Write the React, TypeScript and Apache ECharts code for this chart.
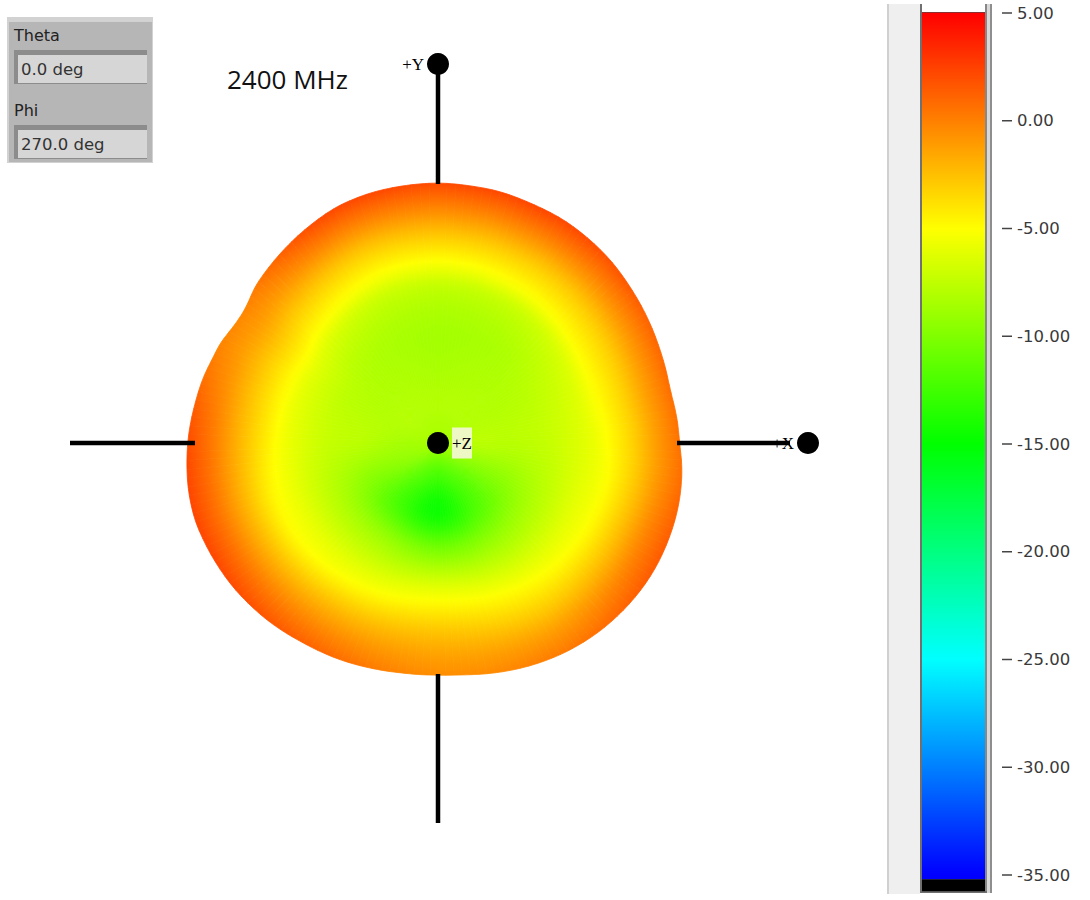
import React, { useEffect, useRef } from "react";
import * as echarts from "echarts";

const colorStops = ["#0000ff", "#0080ff", "#00ffff", "#00ff80", "#00ff00", "#80ff00", "#ffff00", "#ff8000", "#ff0000"];
const scaleMin = -35;
const scaleMax = 5;
const scaleStep = 5;
const scaleTicks = [5, 0, -5, -10, -15, -20, -25, -30, -35];

// Outline of the pattern: polar angle (deg) and radius from the +Z point
const outlineAngles = [0.7, 3, 12.9, 22.7, 31.1, 39.1, 46.1, 53.2, 60.7, 69, 76.8, 82.2, 89.6, 105.2, 113.2, 122.7, 131.3, 140.4, 144.5, 150.7, 154.5, 159.3, 164.5, 169.2, 179.3, 190.6, 197.6, 205.8, 215, 226, 236, 245, 253.2, 261.3, 270, 276, 284.4, 292.5, 300.2, 308.6, 314.7, 320.2, 327.7, 333.9, 342, 347, 353.7];
const outlineRadii = [241, 241, 238, 240.7, 244, 247.4, 251, 253.6, 256, 257, 259, 259, 260, 259, 257, 251, 245.5, 240, 234.5, 235, 239.3, 240.5, 243.8, 245.4, 250, 254, 255, 253, 250.5, 246, 241, 238, 235, 232.6, 232, 233, 237, 241, 244.5, 247.5, 249, 250, 250.8, 250.4, 249.2, 248, 245.5];

// Gain (dB) by fraction of the outline radius (rows) and direction 0,30..330 deg (columns)
const gainFractions = [0, 0.15, 0.3, 0.45, 0.6, 0.68, 0.8, 0.9, 1];
const gainAtCentre = [-8.5, -8.5, -8.5, -8.5, -8.5, -8.5, -8.5, -8.5, -8.5, -8.5, -8.5, -8.5];
const gainAt15 = [-7.8, -8, -8, -8, -8, -8, -8.5, -9.5, -11.5, -12.5, -11.5, -9.5];
const gainAt30 = [-7.8, -8, -8.2, -8.4, -8.2, -8, -7.8, -9.8, -12.5, -14.5, -12, -9.5];
const gainAt45 = [-7.3, -7.6, -8.3, -8.5, -8.2, -7.6, -7.2, -8, -9, -10.5, -9.2, -8];
const gainAt60 = [-6.2, -6.5, -7.2, -7.4, -7, -6.2, -5.7, -5.8, -6.3, -6.6, -6.4, -6];
const gainAt68 = [-5.3, -5, -5.2, -5.5, -5.2, -4.8, -4.4, -4.8, -5, -5, -5, -5];
const gainAt80 = [-3.3, -3, -2.8, -2.8, -2.8, -2.8, -2, -2, -2.5, -2.9, -3, -2.5];
const gainAt90 = [-1.2, -0.8, -0.2, -0.3, -0.3, -1.3, 0.2, 0.3, -0.6, -1.5, -1.2, -0.2];
const gainAtEdge = [0.6, 1.2, 2.2, 2.1, 2, -0.3, 2, 2.2, 1, -0.5, 0.2, 1.5];
const gainRows = [gainAtCentre, gainAt15, gainAt30, gainAt45, gainAt60, gainAt68, gainAt80, gainAt90, gainAtEdge];

const thetaText = "0.0 deg";
const phiText = "270.0 deg";
const titleText = "2400 MHz";

const uiFont = "'DejaVu Sans'";

function rawOutlineAt(a: number) {
  const n = outlineAngles.length;
  const x = ((a % 360) + 360) % 360;
  for (let i = 0; i < n; i++) {
    const a0 = outlineAngles[i];
    const a1 = i + 1 < n ? outlineAngles[i + 1] : outlineAngles[0] + 360;
    const y = x < a0 ? x + 360 : x;
    if (y >= a0 && y <= a1) {
      const t = (y - a0) / (a1 - a0);
      return outlineRadii[i] + t * ((i + 1 < n ? outlineRadii[i + 1] : outlineRadii[0]) - outlineRadii[i]);
    }
  }
  return outlineRadii[0];
}

function outlineAt(a: number) {
  return (rawOutlineAt(a - 2) + rawOutlineAt(a) + rawOutlineAt(a + 2)) / 3;
}

function hermite(p0: number, p1: number, m0: number, m1: number, t: number) {
  const t2 = t * t;
  const t3 = t2 * t;
  return (2 * t3 - 3 * t2 + 1) * p0 + (t3 - 2 * t2 + t) * m0 + (-2 * t3 + 3 * t2) * p1 + (t3 - t2) * m1;
}

function gainInDirection(row: number, a: number) {
  const r = gainRows[row];
  const u = (((a % 360) + 360) % 360) / 30;
  const i = Math.floor(u) % 12;
  const t = u - Math.floor(u);
  const at = (k: number) => r[(k + 12) % 12];
  return hermite(at(i), at(i + 1), (at(i + 1) - at(i - 1)) / 2, (at(i + 2) - at(i)) / 2, t);
}

function gainAt(a: number, f: number) {
  const last = gainFractions.length - 1;
  let i = 0;
  while (i < last - 1 && f > gainFractions[i + 1]) i++;
  const h = gainFractions[i + 1] - gainFractions[i];
  const v = (k: number) => gainInDirection(k, a);
  const slope = (k: number) => {
    if (k <= 0) return (v(1) - v(0)) / (gainFractions[1] - gainFractions[0]);
    if (k >= last) return (v(last) - v(last - 1)) / (gainFractions[last] - gainFractions[last - 1]);
    return (v(k + 1) - v(k - 1)) / (gainFractions[k + 1] - gainFractions[k - 1]);
  };
  return hermite(v(i), v(i + 1), slope(i) * h, slope(i + 1) * h, (f - gainFractions[i]) / h);
}

function colourOf(v: number) {
  const t = Math.max(0, Math.min(1, (v - scaleMin) / (scaleMax - scaleMin)));
  return echarts.color.lerp(t, colorStops) as string;
}

const WEDGES = 180;
const SHADE_STEPS = 40;

function wedgeCells() {
  const out: number[][] = [];
  for (let i = 0; i < WEDGES; i++) out.push([i, 0]);
  return out;
}

function renderWedge(params: any, api: any) {
  const i = api.value(0);
  const da = 360 / WEDGES;
  const a0 = i * da;
  const mid = a0 + da / 2;
  const pt = (a: number) => {
    const r = outlineAt(a);
    return api.coord([r * Math.cos((a * Math.PI) / 180), r * Math.sin((a * Math.PI) / 180)]);
  };
  const c = api.coord([0, 0]);
  const stops = [];
  for (let k = 0; k <= SHADE_STEPS; k++) {
    const f = k / SHADE_STEPS;
    stops.push({ offset: f, color: colourOf(gainAt(mid, f)) });
  }
  const e = api.coord([outlineAt(mid), 0]);
  const grad = new echarts.graphic.RadialGradient(c[0], c[1], Math.abs(e[0] - c[0]), stops, true);
  return {
    type: "polygon",
    shape: { points: [c, pt(a0), pt(mid), pt(a0 + da)] },
    style: { fill: grad, stroke: grad, lineWidth: 0.8 },
  };
}

const scaleFills: Record<number, any> = {};
function renderScale(params: any, api: any) {
  const lo = api.coord([0, api.value(0)]);
  const hi = api.coord([1, api.value(1)]);
  const kind = api.value(2);
  const n = colorStops.length - 1;
  const stops = colorStops.map((_, k) => ({ offset: k / n, color: colorStops[n - k] }));
  scaleFills[1] = new echarts.graphic.LinearGradient(0, 0, 0, 1, stops);
  scaleFills[0] = "#000000";
  scaleFills[2] = colorStops[0];
  return {
    type: "rect",
    shape: { x: lo[0], y: hi[1], width: hi[0] - lo[0], height: lo[1] - hi[1] },
    style: { fill: scaleFills[kind] },
  };
}

function renderTick(params: any, api: any) {
  const p = api.coord([0, api.value(0)]);
  const right = api.coord([1, api.value(0)]);
  const start = right[0] + 17;
  return {
    type: "line",
    shape: { x1: start, y1: p[1], x2: start + 10, y2: p[1] },
    style: { stroke: "#444444", lineWidth: 1.5 },
  };
}

const rect = (x: number, y: number, width: number, height: number, fill: string) => ({
  type: "rect",
  shape: { x, y, width, height },
  style: { fill },
  silent: true,
});

const label = (x: number, y: number, text: string, fontSize: number, fill: string, fontFamily = uiFont) => ({
  type: "text",
  x,
  y,
  style: { text, fontSize, fill, fontFamily, verticalAlign: "middle" },
  silent: true,
});

const axisSegments = [
  [[-368, 0], [-243, 0]],
  [[239, 0], [352, 0]],
  [[0, 379], [0, 259]],
  [[0, -231], [0, -380]],
];

const axisEnds = [
  { name: "+Z", value: [0, 0] },
  { name: "+X", value: [370, 0] },
  { name: "+Y", value: [0, 379] },
];

const labelText = { fontFamily: "'Liberation Serif'", fontSize: 17, color: "#000" };

export default function App() {
  const ref = useRef<HTMLDivElement>(null);
  useEffect(() => {
    const chart = echarts.init(ref.current!, undefined, { renderer: "svg" });
    chart.setOption({
      animation: false,
      backgroundColor: "#ffffff",
      tooltip: { show: false },
      grid: [
        { left: 0, top: 0, width: 1090, height: 900 },
        { left: 922, top: 13, width: 63, height: 862 },
      ],
      xAxis: [
        { type: "value", gridIndex: 0, min: -438, max: 652, show: false },
        { type: "value", gridIndex: 1, min: 0, max: 1, show: false },
      ],
      yAxis: [
        { type: "value", gridIndex: 0, min: -457, max: 443, show: false },
        {
          type: "value",
          gridIndex: 1,
          position: "right",
          offset: 17,
          min: scaleMin,
          max: scaleMax,
          interval: scaleStep,
          splitLine: { show: false },
          axisLine: { show: false },
          axisTick: { show: false },
          axisLabel: {
            margin: 15,
            color: "#3a3a3a",
            fontFamily: uiFont,
            fontSize: 16.5,
            formatter: (v: number) => v.toFixed(2),
          },
        },
      ],
      graphic: [
        {
          type: "group",
          z: 0,
          children: [
            rect(7, 17, 146, 146, "#d2d2d2"),
            rect(9, 22, 143, 140, "#b6b6b6"),
            rect(14, 50, 133, 34, "#8c8c8c"),
            rect(18, 55, 129, 28, "#d6d6d6"),
            rect(14, 125, 133, 34, "#8c8c8c"),
            rect(18, 130, 129, 28, "#d6d6d6"),
            label(14, 35, "Theta", 16, "#222222"),
            label(21, 69, thetaText, 16.5, "#333333"),
            label(14, 110, "Phi", 16, "#222222"),
            label(21, 144, phiText, 16.5, "#333333"),
            label(227, 79, titleText, 26, "#111111", "'Open Sans'"),
            rect(887, 4, 2, 890, "#d0d0d0"),
            rect(889, 4, 31, 890, "#efefef"),
            rect(920, 4, 2, 889, "#707070"),
            rect(922, 12, 63, 2, "#8a3030"),
            rect(985, 4, 2, 889, "#888888"),
            rect(987, 4, 3, 889, "#d8d8d8"),
            rect(990, 4, 2, 889, "#8e8e8e"),
            rect(920, 891, 67, 2, "#707070"),
          ],
        },
      ],
      series: [
        {
          type: "custom",
          coordinateSystem: "cartesian2d",
          xAxisIndex: 0,
          yAxisIndex: 0,
          silent: true,
          clip: false,
          z: 2,
          data: wedgeCells(),
          renderItem: renderWedge,
        },
        ...axisSegments.map((seg) => ({
          type: "line" as const,
          xAxisIndex: 0,
          yAxisIndex: 0,
          silent: true,
          z: 3,
          symbol: "none",
          lineStyle: { color: "#000000", width: 4.5, cap: "butt" },
          data: seg,
        })),
        {
          type: "scatter",
          xAxisIndex: 0,
          yAxisIndex: 0,
          silent: true,
          z: 4,
          symbol: "circle",
          symbolSize: 22,
          itemStyle: { color: "#000000", opacity: 1 },
          data: axisEnds.map((d) => ({
            name: d.name,
            value: d.value,
            label: {
              show: true,
              formatter: d.name,
              ...labelText,
              ...(d.name === "+Z"
                ? { position: "right", distance: 3, backgroundColor: "#eef8c4", padding: [7, 0, 7, 0] }
                : { position: "left", distance: 3 }),
            },
          })),
        },
        {
          type: "custom",
          coordinateSystem: "cartesian2d",
          xAxisIndex: 1,
          yAxisIndex: 1,
          silent: true,
          clip: false,
          z: 2,
          data: [
            [scaleMin, scaleMax, 1],
            [-35.21, scaleMin, 2],
            [-35.75, -35.2, 0],
          ],
          renderItem: renderScale,
        },
        {
          type: "custom",
          coordinateSystem: "cartesian2d",
          xAxisIndex: 1,
          yAxisIndex: 1,
          silent: true,
          clip: false,
          z: 2,
          encode: { y: 0 },
          data: scaleTicks.map((t) => [t]),
          renderItem: renderTick,
        },
      ],
    });
    return () => chart.dispose();
  }, []);
  return <div ref={ref} style={{ position: "absolute", left: 0, top: 0, width: 1090, height: 900 }} />;
}
